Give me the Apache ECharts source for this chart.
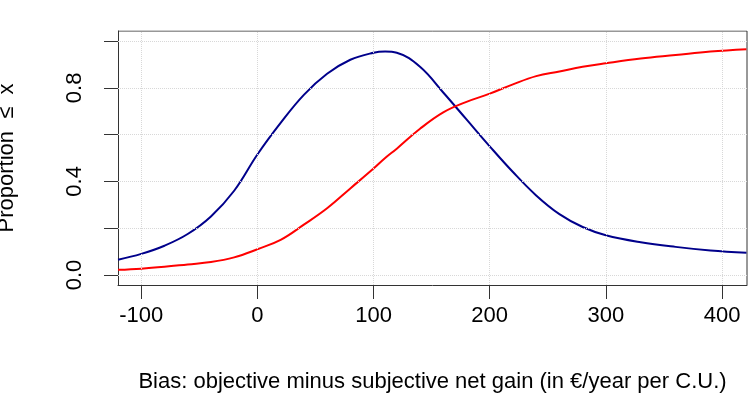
<!DOCTYPE html><html><head><meta charset="utf-8"><script src="https://cdn.jsdelivr.net/npm/echarts@6/dist/echarts.min.js"></script></head><body style="margin:0"><div id="c" style="width:750px;height:403px"></div><script>
const xs=[-120,-100,-80,-60,-40,-20,0,20,40,60,80,100,110,120,140,160,180,200,220,240,260,280,300,330,360,390,421];
const blue=[0.065,0.09,0.125,0.175,0.25,0.36,0.515,0.65,0.77,0.86,0.92,0.95,0.955,0.95,0.89,0.78,0.665,0.55,0.44,0.34,0.26,0.205,0.17,0.14,0.12,0.105,0.095];
const red=[0.022,0.027,0.035,0.045,0.055,0.075,0.11,0.15,0.215,0.285,0.37,0.455,0.5,0.54,0.625,0.695,0.74,0.775,0.815,0.85,0.87,0.89,0.905,0.925,0.94,0.955,0.965];
const xTicks=[-100,0,100,200,300,400];
const yTicks=[0,0.2,0.4,0.6,0.8,1.0];
const yLabels=[0,0.4,0.8];
const F='Liberation Sans, Arial, sans-serif';
const gl={type:'dotted',color:'#d8d8d8',width:1};
const ch=echarts.init(document.getElementById('c'));
ch.setOption({animation:false,
grid:{left:118,right:3,top:31,bottom:118,containLabel:false,outerBoundsMode:'none'},
xAxis:{type:'value',min:-120,max:421.5,name:'Bias: objective minus subjective net gain (in €/year per C.U.)',nameLocation:'middle',nameGap:86,nameTextStyle:{fontFamily:F,fontSize:22,color:'#000'},
 axisLine:{show:true,onZero:false,lineStyle:{color:'#333'}},splitLine:{show:false},
 axisTick:{show:true,inside:false,customValues:xTicks,length:14,lineStyle:{color:'#333'}},
 axisLabel:{customValues:xTicks,fontFamily:F,fontSize:22,color:'#000',margin:20}},
yAxis:{type:'value',min:-0.043,max:1.043,name:'Proportion  ≤  x',nameLocation:'middle',nameGap:100,nameTextStyle:{fontFamily:F,fontSize:22,color:'#000'},
 axisLine:{show:true,onZero:false,lineStyle:{color:'#333'}},splitLine:{show:false},
 axisTick:{show:true,inside:false,customValues:yTicks,length:14,lineStyle:{color:'#333'}},
 axisLabel:{customValues:yLabels,rotate:90,fontFamily:F,fontSize:22,color:'#000',margin:32,formatter:v=>v.toFixed(1)}},
series:[
{type:'line',data:[],markLine:{silent:true,symbol:'none',label:{show:false},lineStyle:gl,data:xTicks.map(v=>({xAxis:v})).concat(yTicks.map(v=>({yAxis:v})))}},
{type:'line',data:[[-120,1.043],[421.5,1.043]],symbol:'none',lineStyle:{color:'#333',width:1},z:1},
{type:'line',data:[[421.5,-0.043],[421.5,1.043]],symbol:'none',lineStyle:{color:'#333',width:1},z:1},
{type:'line',smooth:0.4,symbol:'none',data:xs.map((x,i)=>[x,blue[i]]),lineStyle:{color:'#00008B',width:2}},
{type:'line',smooth:0.4,symbol:'none',data:xs.map((x,i)=>[x,red[i]]),lineStyle:{color:'#ff0000',width:2}}
]});
</script></body></html>
